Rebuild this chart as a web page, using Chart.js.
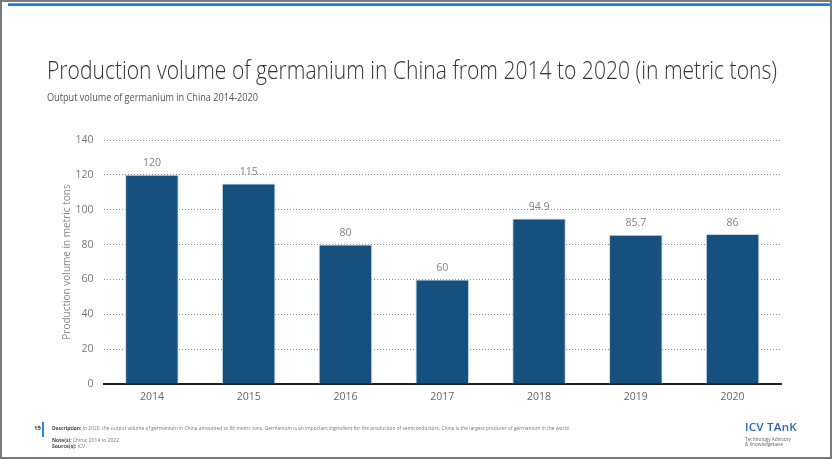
<!DOCTYPE html>
<html>
<head>
<meta charset="utf-8">
<script src="https://cdn.jsdelivr.net/npm/chart.js@4.4.1/dist/chart.umd.min.js"></script>
<style>
  html, body { margin:0; padding:0; background:#fff; }
  body { width:832px; height:459px; position:relative; overflow:hidden; font-family:"Open Sans", "Noto Sans", sans-serif; }
  #frame { position:absolute; left:0; top:0; width:828px; height:455px; border:2px solid #7a7a7a; pointer-events:none; }
  #topline { position:absolute; left:8px; top:3px; width:822px; height:3px; background:linear-gradient(#45a3ee 0%, #45a3ee 40%, #1a7ed3 40%, #1a7ed3 100%); }
  #c { position:absolute; left:0; top:0; }
  .t { position:absolute; white-space:nowrap; transform-origin:0 50%; }
  #title { left:47px; top:52px; font-size:25px; font-weight:300; color:#333; }
  #subtitle { left:47px; top:90px; font-size:10px; color:#555; }
  #pg { left:34px; top:424px; font-size:6px; font-weight:700; color:#333; }
  #pgbar { position:absolute; left:42px; top:422px; width:2px; height:15px; background:#1f8ce0; }
  .f { font-size:5px; color:#777; left:52px; }
  .f b { color:#444; }
  #logo { left:745px; top:419px; font-size:11px; font-weight:600; color:#2a67a8; letter-spacing:0.2px; }
  .lg { left:745px; font-size:4.5px; color:#666; }
</style>
</head>
<body>
<canvas id="c" width="832" height="459"></canvas>
<div id="topline"></div>
<div id="frame"></div>
<div class="t" id="title" data-w="730">Production volume of germanium in China from 2014 to 2020 (in metric tons)</div>
<div class="t" id="subtitle" data-w="211">Output volume of germanium in China 2014-2020</div>
<div class="t" id="pg">15</div>
<div id="pgbar"></div>
<div class="t f" style="top:425px" data-w="518"><b>Description:</b> In 2020, the output volume of germanium in China amounted to 86 metric tons. Germanium is an important ingredient for the production of semiconductors. China is the largest producer of germanium in the world.</div>
<div class="t f" style="top:437px"><b>Note(s):</b> China; 2014 to 2022</div>
<div class="t f" style="top:443px"><b>Source(s):</b> ICV</div>
<div class="t" id="logo" data-w="52">ICV TAnK</div>
<div class="t lg" style="top:436px" data-w="46">Technology Advisory</div>
<div class="t lg" style="top:441px" data-w="38">&amp; Knowledgebase</div>
<script>
const categories = ["2014", "2015", "2016", "2017", "2018", "2019", "2020"];
const productionValues = [120, 115, 80, 60, 94.9, 85.7, 86];
const yTicks = [0, 20, 40, 60, 80, 100, 120, 140];
const yAxisTitle = "Production volume in metric tons";

const FONT = '"Open Sans", "Noto Sans", sans-serif';

document.querySelectorAll('[data-w]').forEach(el => {
  const target = parseFloat(el.dataset.w);
  const w = el.getBoundingClientRect().width;
  if (w > 0) el.style.transform = 'scaleX(' + (target / w) + ')';
});

const valueLabels = {
  id: 'valueLabels',
  afterDatasetsDraw(chart) {
    const ctx = chart.ctx;
    const meta = chart.getDatasetMeta(0);
    ctx.save();
    ctx.font = '10.5px ' + FONT;
    ctx.fillStyle = '#808080';
    ctx.textAlign = 'center';
    ctx.textBaseline = 'middle';
    meta.data.forEach((el, i) => {
      ctx.fillText(String(productionValues[i]), el.x, el.y - 11.5);
    });
    ctx.restore();
  }
};

new Chart(document.getElementById('c'), {
  type: 'bar',
  data: {
    labels: categories,
    datasets: [{
      data: productionValues,
      backgroundColor: '#15507f',
      borderColor: '#c9d3de',
      borderWidth: 1,
      barPercentage: 0.553,
      categoryPercentage: 1
    }]
  },
  options: {
    responsive: false,
    maintainAspectRatio: false,
    animation: false,
    devicePixelRatio: 1,
    layout: { padding: { left: 55, right: 51, top: 140, bottom: 45 } },
    plugins: { legend: { display: false }, tooltip: { enabled: false } },
    scales: {
      x: {
        grid: { display: false, drawTicks: false },
        border: { display: true, color: '#222', width: 2 },
        ticks: { color: '#666', font: { family: FONT, size: 10.5 }, padding: 7, maxRotation: 0 },
        afterFit(s) { s.height = 30; }
      },
      y: {
        min: 0, max: 140,
        afterBuildTicks(s) { s.ticks = yTicks.map(v => ({ value: v })); },
        grid: { color: '#8a8a8a', lineWidth: 1, drawTicks: false },
        border: { display: false, dash: [1, 2] },
        ticks: { color: '#777', font: { family: FONT, size: 10.5 }, padding: 10 },
        title: { display: true, text: yAxisTitle, color: '#888', font: { family: FONT, size: 10 }, padding: { top: 6, bottom: 0 } },
        afterFit(s) { s.width = 48.5; }
      }
    }
  },
  plugins: [valueLabels]
});
</script>
</body>
</html>
